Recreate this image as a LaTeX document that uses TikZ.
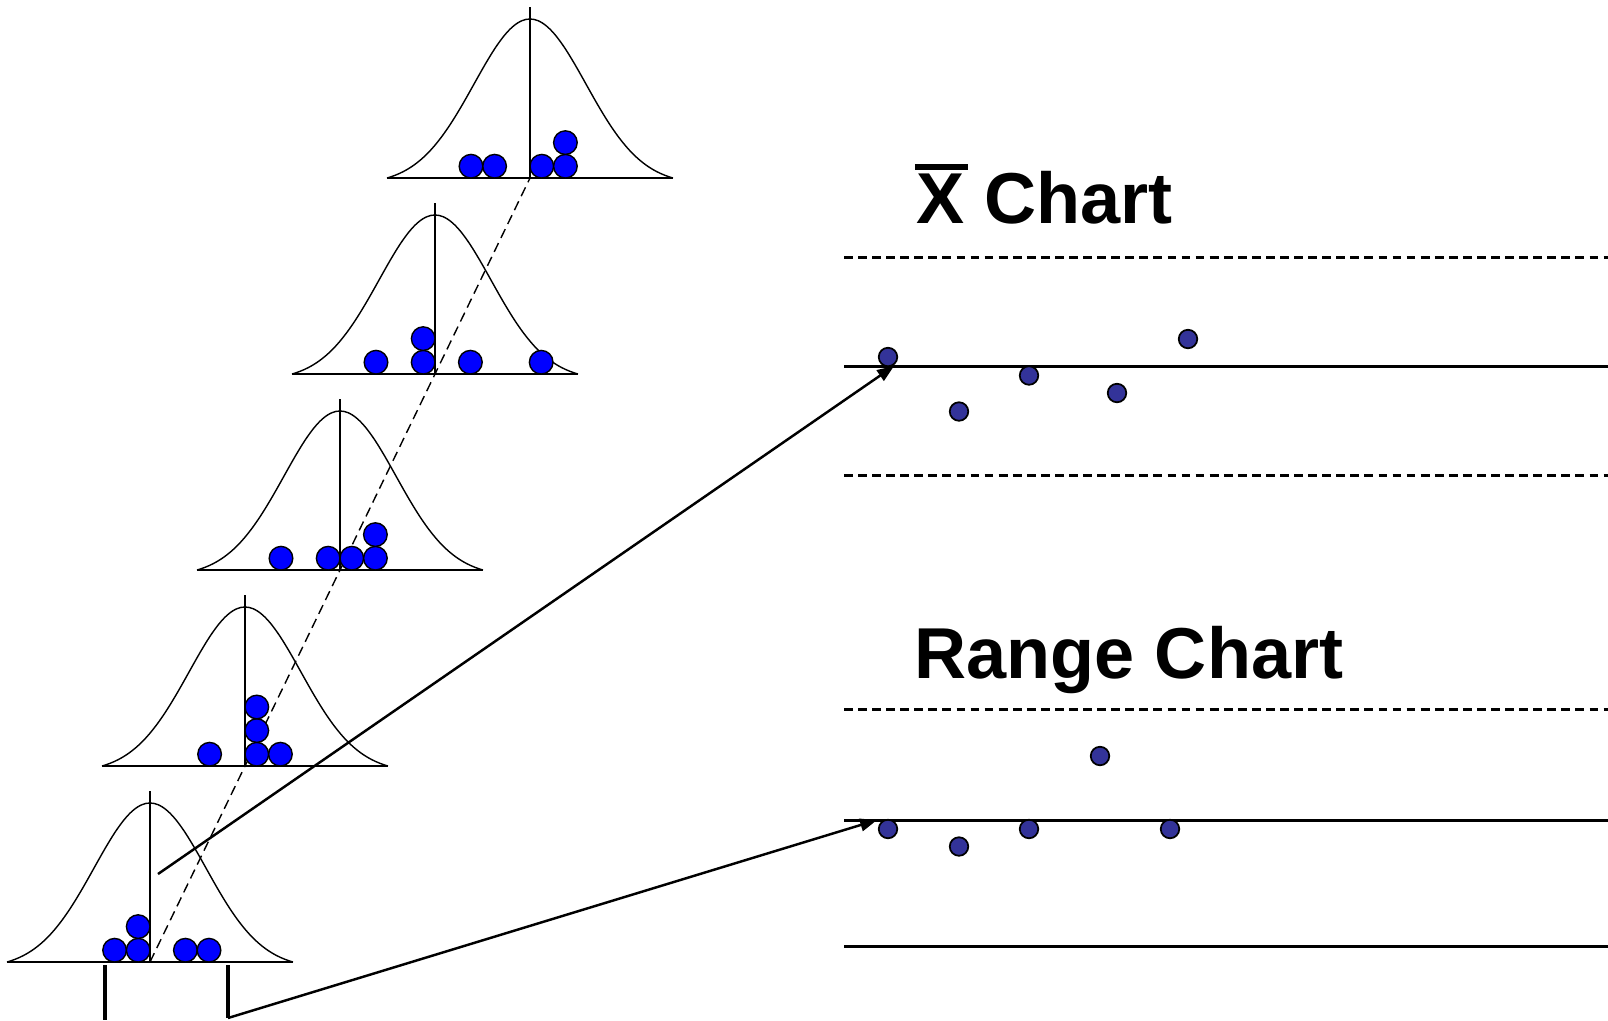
\documentclass[tikz,border=0pt]{standalone}
\usepackage{fontspec}
\setmainfont{Liberation Sans}
\usetikzlibrary{arrows.meta}
\definecolor{ballblue}{HTML}{0000FF}
\definecolor{dotblue}{HTML}{333399}

\begin{document}
\begin{tikzpicture}[x=0.01cm, y=-0.01cm,
    bell/.style={draw=black, line width=0.4pt},
    ball/.style={fill=ballblue, draw=black, line width=0.4pt},
    mean/.style={line width=0.4pt, dash pattern=on 2.8pt off 1.6pt},
    pt/.style={circle, fill=dotblue, draw=black, line width=0.5pt, minimum size=1.85mm, inner sep=0pt},
    limit/.style={line width=0.65pt, dash pattern=on 2.5pt off 1.5pt},
    centre/.style={line width=0.85pt},
    bracket/.style={line width=0.9pt},
    title/.style={font=\bfseries\fontsize{20.5}{24}\selectfont, anchor=base west, inner sep=0pt},
    link/.style={line width=0.7pt, -{Triangle[length=4.8pt, width=3.6pt]}}]
  \useasboundingbox (0,0) rectangle (1608,1020);

  \coordinate (m0) at (150,962);
  \coordinate (m4) at (530,178);
  \draw[mean] (m0) -- (m4);

  \foreach \i/\balls in {0/{-1.5/1,-0.5/1,-0.5/2,1.5/1,2.5/1},
                         1/{-1.5/1,0.5/1,0.5/2,0.5/3,1.5/1},
                         2/{-2.5/1,-0.5/1,0.5/1,1.5/1,1.5/2},
                         3/{-2.5/1,-0.5/1,-0.5/2,1.5/1,4.5/1},
                         4/{-2.5/1,-1.5/1,0.5/1,1.5/1,1.5/2}} {
    \pgfmathsetmacro{\cx}{150+95*\i}
    \pgfmathsetmacro{\by}{962-196*\i}
    \draw[bell] plot[domain=-14.3:14.3, samples=73, smooth]
      ({\cx+10*\x}, {\by-159*(exp(-\x*\x/62.7)-0.0384)/0.9616});
    \draw[bell] (\cx-143,\by) -- (\cx+143,\by);
    \draw[bell] (\cx,\by) -- (\cx,\by-171);
    \foreach \k/\r in \balls
      \filldraw[ball] (\cx+23.6*\k, \by-11.8-23.6*\r+23.6) circle[radius=1.18mm];
  }

  \node[title] (xtitle) at (916,223)
    {\rlap{\hspace{-0.024em}\rule[0.736em]{0.73em}{0.08em}}X Chart};
  \node[title] (rtitle) at (914,678) {Range Chart};

  \draw[limit]  (844,257.5) -- (1608,257.5);
  \draw[centre] (844,366) -- (1608,366);
  \draw[limit]  (844,475.5) -- (1608,475.5);

  \draw[limit]  (844,709.5) -- (1608,709.5);
  \draw[centre] (844,820.5) -- (1608,820.5);
  \draw[centre] (844,946.5) -- (1608,946.5);

  \foreach \n/\px/\py in {1/888/357, 2/959/411.5, 3/1029/375.5, 4/1117/393, 5/1188/339}
    \node[pt] (xa\n) at (\px,\py) {};
  \foreach \n/\px/\py in {1/888/829, 2/959/846.5, 3/1029/829, 4/1100/756, 5/1170/829}
    \node[pt] (rg\n) at (\px,\py) {};

  \coordinate (xstart) at (158,874);
  \coordinate (xtip) at (894,366);
  \draw[link] (xstart) -- (xtip);

  \coordinate (lbar) at (105,965);
  \coordinate (rbar) at (228,965);
  \coordinate (rstart) at (228,1018);
  \coordinate (rtip) at (877,820);
  \draw[bracket] (lbar) -- (105,1020);
  \draw[bracket] (rbar) -- (rstart);
  \draw[link] (rstart) -- (rtip);
\end{tikzpicture}
\end{document}
